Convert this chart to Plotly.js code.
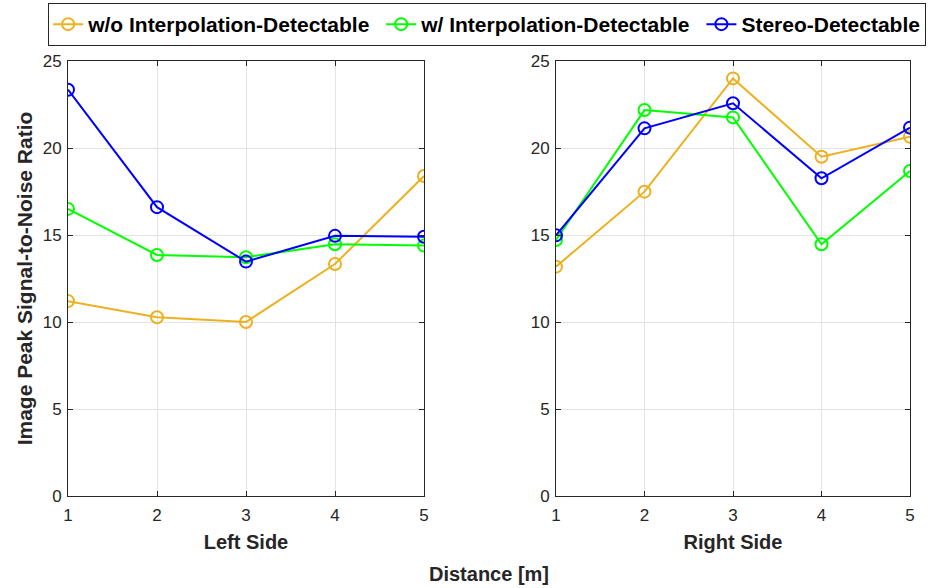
<!DOCTYPE html>
<html>
<head>
<meta charset="utf-8">
<script src="https://cdn.plot.ly/plotly-3.0.1.min.js"></script>
<style>html,body{margin:0;padding:0;background:#fff;}#chart{width:935px;height:588px;}</style>
</head>
<body>
<div id="chart"></div>
<script>
const distances = [1, 2, 3, 4, 5];
const seriesNames = ["w/o Interpolation-Detectable", "w/ Interpolation-Detectable", "Stereo-Detectable"];
const seriesColors = ["#EDB120", "#00FF00", "#0000FF"];
const leftWoInterp = [11.2, 10.27, 10.0, 13.33, 18.39];
const leftWInterp = [16.5, 13.85, 13.72, 14.47, 14.39];
const leftStereo = [23.35, 16.6, 13.47, 14.95, 14.9];
const rightWoInterp = [13.18, 17.49, 24.0, 19.5, 20.65];
const rightWInterp = [14.71, 22.18, 21.76, 14.47, 18.68];
const rightStereo = [14.98, 21.13, 22.57, 18.26, 21.17];
const yTicks = [0, 5, 10, 15, 20, 25];
const xTicks = [1, 2, 3, 4, 5];

const leftSets = [leftWoInterp, leftWInterp, leftStereo];
const rightSets = [rightWoInterp, rightWInterp, rightStereo];
const legendPad = ['&nbsp;', '&nbsp;', ''];

const traces = [];
leftSets.forEach((ys, i) => {
  traces.push({
    x: distances, y: ys, xaxis: 'x', yaxis: 'y', type: 'scatter', mode: 'lines+markers',
    name: '<b>' + seriesNames[i] + '</b>' + legendPad[i], legendgroup: 'g' + i, showlegend: true,
    line: {color: seriesColors[i], width: 2},
    marker: {symbol: 'circle-open', size: 12, color: seriesColors[i], line: {width: 2, color: seriesColors[i]}}
  });
});
rightSets.forEach((ys, i) => {
  traces.push({
    x: distances, y: ys, xaxis: 'x2', yaxis: 'y2', type: 'scatter', mode: 'lines+markers',
    name: '<b>' + seriesNames[i] + '</b>', legendgroup: 'g' + i, showlegend: false,
    line: {color: seriesColors[i], width: 2},
    marker: {symbol: 'circle-open', size: 12, color: seriesColors[i], line: {width: 2, color: seriesColors[i]}}
  });
});

const fontFam = 'Liberation Sans, Arial, sans-serif';
const axisCommon = {
  showline: true, mirror: 'ticks', linecolor: '#262626', linewidth: 1,
  ticks: 'inside', ticklen: 5, tickcolor: '#262626',
  showgrid: true, gridcolor: '#e3e3e3', gridwidth: 1, zeroline: false,
  tickfont: {family: fontFam, size: 17, color: '#262626'}
};
const titleFont = {family: fontFam, size: 20, color: '#262626'};

const yDomain = [1 - 496/588, 1 - 61/588];

const layout = {
  width: 935, height: 588,
  margin: {l: 0, r: 0, t: 0, b: 0},
  paper_bgcolor: '#fff', plot_bgcolor: '#fff',
  showlegend: true,
  legend: {
    orientation: 'h', x: 0.521, xanchor: 'center', y: 1 - 3/588, yanchor: 'top',
    bordercolor: '#262626', borderwidth: 1, bgcolor: '#fff',
    font: {family: fontFam, size: 21, color: '#000'},
    itemwidth: 30, tracegroupgap: 0
  },
  xaxis: Object.assign({}, axisCommon, {
    domain: [68/935, 424/935], range: [1, 5], tickvals: xTicks, anchor: 'y',
    ticklabelstandoff: 4,
    title: {text: '<b>Left Side</b>', font: titleFont, standoff: 10}
  }),
  yaxis: Object.assign({}, axisCommon, {
    domain: yDomain, range: [0, 25], tickvals: yTicks, anchor: 'x',
    ticklabelstandoff: 2,
    title: {text: '<b>Image Peak Signal-to-Noise Ratio</b>', font: {family: fontFam, size: 21, color: '#262626'}, standoff: 4}
  }),
  xaxis2: Object.assign({}, axisCommon, {
    domain: [556/935, 910/935], range: [1, 5], tickvals: xTicks, anchor: 'y2',
    ticklabelstandoff: 4,
    title: {text: '<b>Right Side</b>', font: titleFont, standoff: 10}
  }),
  yaxis2: Object.assign({}, axisCommon, {
    domain: yDomain, range: [0, 25], tickvals: yTicks, anchor: 'x2',
    ticklabelstandoff: 2
  }),
  annotations: [{
    text: '<b>Distance [m]</b>', xref: 'paper', yref: 'paper',
    x: 489/935, y: 1 - 574/588, xanchor: 'center', yanchor: 'middle',
    showarrow: false, font: titleFont
  }]
};

Plotly.newPlot('chart', traces, layout, {displayModeBar: false, staticPlot: true});
</script>
</body>
</html>
